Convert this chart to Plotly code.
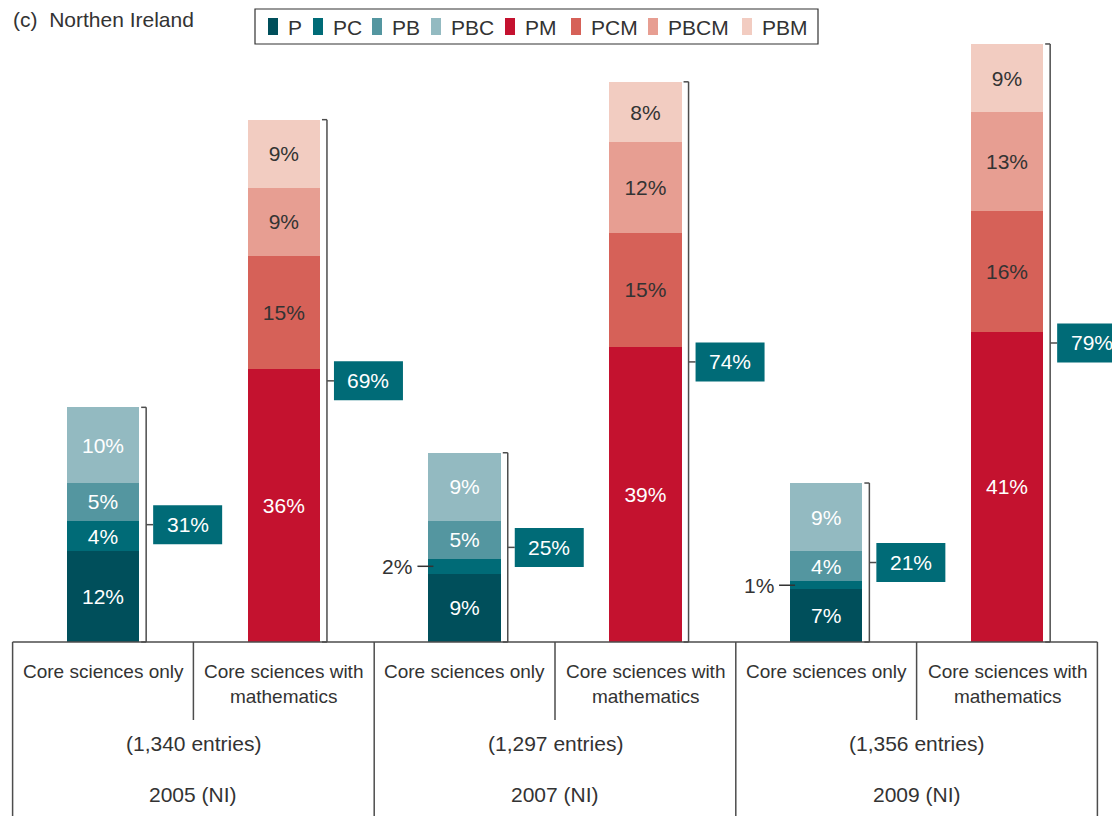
import plotly.graph_objects as go

# ---------------- data ----------------
years = ["2005 (NI)", "2007 (NI)", "2009 (NI)"]
entries = ["(1,340 entries)", "(1,297 entries)", "(1,356 entries)"]
subcats = ["Core sciences only", "Core sciences with<br>mathematics"]

core_names = ["P", "PC", "PB", "PBC"]
math_names = ["PM", "PCM", "PBCM", "PBM"]

P = [12, 9, 7]
PC = [4, 2, 1]
PB = [5, 5, 4]
PBC = [10, 9, 9]
PM = [36, 39, 41]
PCM = [15, 15, 16]
PBCM = [9, 12, 13]
PBM = [9, 8, 9]

core_totals = [31, 25, 21]
math_totals = [69, 74, 79]

core_colors = ["#004F5B", "#006B77", "#5496A0", "#93BAC1"]
math_colors = ["#C4122F", "#D66158", "#E79E92", "#F2CCC1"]
core_text = ["white", "white", "white", "white"]
math_text = ["white", "#333333", "#333333", "#333333"]

# ---------------- geometry helpers ----------------
VW, VH = 1120, 816          # browser viewport
OFF = 8                     # default page body margin
W, H = VW - OFF, VH - OFF   # figure size so that it fills the viewport
PXU = 180.8   # pixels per x unit (one sub-column)
PXY = 7.57    # pixels per percentage point
X0PX = 12.6   # viewport pixel of x = 0
BASEPX = 642  # viewport pixel of y = 0
xr = [(OFF - X0PX) / PXU, (OFF + W - X0PX) / PXU]
yr = [-(OFF + H - BASEPX) / PXY, (BASEPX - OFF) / PXY]
BW = 0.4
LINE = "#4d4d4d"
TXT = "#333333"
FONT = "Liberation Sans, Arial, sans-serif"


def dx(px):
    return px / PXU


def dy(px):
    return px / PXY


def pxp(px):  # viewport x pixel -> paper
    return (px - OFF) / W


def pyp(py):  # viewport y pixel -> paper
    return 1 - (py - OFF) / H


core_x = [0.5 + 2 * g for g in range(3)]
math_x = [1.5 + 2 * g for g in range(3)]

fig = go.Figure()
core_series = [P, PC, PB, PBC]
math_series = [PM, PCM, PBCM, PBM]

annotations = []
shapes = []


def add_stack(xs, series, names, colors, tcolors):
    for vals, name, col, tc in zip(series, names, colors, tcolors):
        fig.add_trace(go.Bar(
            x=xs, y=vals, name=name, width=BW,
            marker=dict(color=col, line=dict(width=0)),
            text=[f"{v}%" if v >= 3 else "" for v in vals],
            textposition="inside", insidetextanchor="middle", textangle=0,
            textfont=dict(color=tc, size=21, family=FONT),
            hoverinfo="skip", showlegend=False,
        ))


add_stack(core_x, core_series, core_names, core_colors, core_text)
add_stack(math_x, math_series, math_names, math_colors, math_text)

# small segments labelled outside with a leader line
for xs, series in ((core_x, core_series), (math_x, math_series)):
    for g, x in enumerate(xs):
        base = 0
        for vals in series:
            v = vals[g]
            if v < 3:
                ymid = base + v / 2
                left = x - BW / 2
                shapes.append(dict(type="line", x0=left - dx(11), x1=left + dx(5),
                                   y0=ymid, y1=ymid, line=dict(color=TXT, width=1.5)))
                annotations.append(dict(x=left - dx(14), y=ymid, text=f"{v}%",
                                        xanchor="right", yanchor="middle", showarrow=False,
                                        font=dict(size=21, color=TXT, family=FONT)))
            base += v

# brackets with total boxes
for xs, totals in ((core_x, core_totals), (math_x, math_totals)):
    for x, t in zip(xs, totals):
        bx = x + BW / 2 + dx(7)
        ln = dict(color=LINE, width=1.5)
        shapes.append(dict(type="line", x0=bx, x1=bx, y0=0, y1=t, line=ln))
        shapes.append(dict(type="line", x0=bx - dx(5), x1=bx, y0=t, y1=t, line=ln))
        shapes.append(dict(type="line", x0=bx - dx(5), x1=bx, y0=0, y1=0, line=ln))
        shapes.append(dict(type="line", x0=bx, x1=bx + dx(7), y0=t / 2, y1=t / 2, line=ln))
        shapes.append(dict(type="rect", x0=bx + dx(7), x1=bx + dx(76),
                           y0=t / 2 - dy(19.5), y1=t / 2 + dy(19.5),
                           fillcolor="#006B77", line=dict(width=0)))
        annotations.append(dict(x=bx + dx(41.5), y=t / 2, text=f"{t}%",
                                xanchor="center", yanchor="middle", showarrow=False,
                                font=dict(size=21, color="white", family=FONT)))

# category table
tl = dict(color=LINE, width=1.5)
shapes.append(dict(type="line", x0=0, x1=6, y0=0, y1=0, line=tl))
for g in range(4):
    shapes.append(dict(type="line", x0=2 * g, x1=2 * g, y0=0, y1=yr[0] - 1, line=tl))
for g in range(3):
    shapes.append(dict(type="line", x0=2 * g + 1, x1=2 * g + 1, y0=0,
                       y1=-dy(720 - BASEPX), line=tl))
    for k, sc in enumerate(subcats):
        annotations.append(dict(x=2 * g + 0.5 + k, y=-dy(659 - BASEPX), text=sc,
                                xanchor="center", yanchor="top", showarrow=False,
                                font=dict(size=19, color=TXT, family=FONT)))
    annotations.append(dict(x=2 * g + 1, y=-dy(743 - BASEPX), text=entries[g],
                            xanchor="center", yanchor="middle", showarrow=False,
                            font=dict(size=21, color=TXT, family=FONT)))
    annotations.append(dict(x=2 * g + 1, y=-dy(794 - BASEPX), text=years[g],
                            xanchor="center", yanchor="middle", showarrow=False,
                            font=dict(size=21, color=TXT, family=FONT)))

# title
annotations.append(dict(x=pxp(11), y=pyp(19), xref="paper", yref="paper",
                        text="(c)&nbsp;&nbsp;Northen Ireland", xanchor="left", yanchor="middle",
                        showarrow=False, font=dict(size=21, color=TXT, family=FONT)))

# legend (drawn manually to match spacing)
leg_names = core_names + math_names
leg_colors = core_colors + math_colors
leg_sq = [268, 313, 372, 431, 505, 571, 648, 742]
shapes.append(dict(type="rect", xref="paper", yref="paper",
                   x0=pxp(255), x1=pxp(818), y0=pyp(44), y1=pyp(9),
                   line=dict(color=TXT, width=1.2), fillcolor="white"))
for nm, col, sx in zip(leg_names, leg_colors, leg_sq):
    shapes.append(dict(type="rect", xref="paper", yref="paper",
                       x0=pxp(sx), x1=pxp(sx + 10), y0=pyp(35), y1=pyp(18),
                       fillcolor=col, line=dict(width=0)))
    annotations.append(dict(x=pxp(sx + 18), y=pyp(27), xref="paper", yref="paper",
                            text=nm, xanchor="left", yanchor="middle", showarrow=False,
                            font=dict(size=21, color=TXT, family=FONT)))

fig.update_layout(
    width=W, height=H, barmode="stack",
    margin=dict(l=0, r=0, t=0, b=0),
    plot_bgcolor="white", paper_bgcolor="white",
    xaxis=dict(range=xr, visible=False, fixedrange=True),
    yaxis=dict(range=yr, visible=False, fixedrange=True),
    uniformtext=dict(minsize=18, mode="show"),
    shapes=shapes, annotations=annotations, showlegend=False,
)

fig.write_html("out.html")
